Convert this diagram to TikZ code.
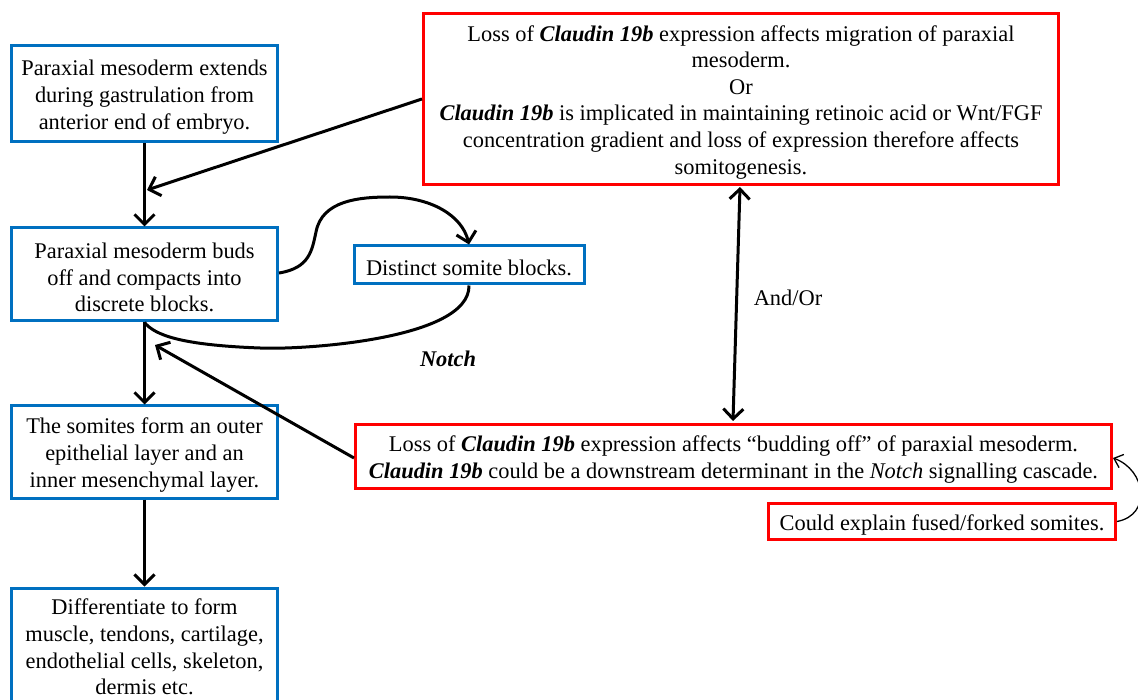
\documentclass[tikz,border=0pt]{standalone}
\usepackage{fontspec}
\setmainfont{Liberation Serif}
\usetikzlibrary{arrows.meta}
\definecolor{boxblue}{RGB}{0,112,192}
\definecolor{boxred}{RGB}{255,0,0}
\tikzset{
  txt/.style={font=\fontsize{22.4}{26.6}\selectfont, align=center, inner sep=0pt},
  bluebox/.style={txt, draw=boxblue, line width=3pt},
  redbox/.style={txt, draw=boxred, line width=3pt},
  conn/.style={line width=3pt, -{Straight Barb[length=10pt,width=20pt,line width=3pt]}},
  plainconn/.style={line width=3pt},
  thinconn/.style={line width=1.3pt, -{Straight Barb[length=8pt,width=14pt,line width=1.3pt]}},
  dblconn/.style={line width=3pt, {Straight Barb[length=10pt,width=20pt,line width=3pt]}-{Straight Barb[length=10pt,width=20pt,line width=3pt]}},
}
\newcommand{\cl}{\textbf{\textit{Claudin 19b}}}
\newcommand{\fs}{\rule{0pt}{22pt}}
\begin{document}
\begin{tikzpicture}[x=1pt,y=-1pt]
\useasboundingbox (0,0) rectangle (1138,700);
\fill[white] (0,0) rectangle (1138,700);
% left column
\node[bluebox, minimum width=266pt, minimum height=96pt] (b1) at (144.5,94)
  {\fs Paraxial mesoderm extends\\ during gastrulation from\\ anterior end of embryo.};
\node[bluebox, minimum width=266pt, minimum height=93pt] (b2) at (144.5,274.5)
  {\fs Paraxial mesoderm buds\\ off and compacts into\\ discrete blocks.};
\node[bluebox, minimum width=266pt, minimum height=92pt] (b3) at (144.5,452)
  {\fs The somites form an outer\\ epithelial layer and an\\ inner mesenchymal layer.};
\node[bluebox, minimum width=266pt, minimum height=118pt, anchor=north] (b4) at (144.5,586.5)
  {\rule{0pt}{15pt}Differentiate to form\\ muscle, tendons, cartilage,\\ endothelial cells, skeleton,\\ dermis etc.};
\node[bluebox, minimum width=230pt, minimum height=38pt] (ds) at (469,265)
  {\fs Distinct somite blocks.};
% right column
\node[redbox, minimum width=635pt, minimum height=171pt] (r1) at (741,99)
  {\fs Loss of \cl{} expression affects migration of paraxial\\ mesoderm.\\ Or\\
   \cl{} is implicated in maintaining retinoic acid or Wnt/FGF\\
   concentration gradient and loss of expression therefore affects\\ somitogenesis.};
\node[redbox, minimum width=756pt, minimum height=64pt] (r2) at (733.5,456.5)
  {\fs Loss of \cl{} expression affects “budding off” of paraxial mesoderm.\\
   \cl{} could be a downstream determinant in the \textit{Notch} signalling cascade.};
\node[redbox, minimum width=347pt, minimum height=36pt] (r3) at (942,521.5)
  {\fs Could explain fused/forked somites.};
% labels
\node[txt] (andor) at (788,295) {\fs And/Or};
\node[txt, font=\fontsize{22.4}{26.6}\selectfont\bfseries\itshape] (notch) at (448,356) {\fs Notch};
% junction coordinates
\coordinate (j1) at (147,190);
\coordinate (j2) at (155,345);
\coordinate (rt) at (740,187);
\coordinate (rb) at (733,421);
% connectors
\draw[conn] (b1.south) -- (b2.north);
\draw[conn] (b2.south) -- (b3.north);
\draw[conn] (b3.south) -- (b4.north);
\draw[conn] (r1.west |- 0,99) -- (j1);
\draw[conn] (r2.west |- 0,458) -- (j2);
\draw[conn] (b2.east |- 0,273) .. controls (310,268) and (312,250) .. (316,232)
  .. controls (322,200) and (360,197) .. (390,197)
  .. controls (430,197) and (462,215) .. (ds.north);
\draw[plainconn] (ds.south) .. controls (470,340) and (300,350) .. (260,348)
  .. controls (180,345) and (155,335) .. (b2.south);
\draw[dblconn] (rt) -- (rb);
\draw[thinconn] (r3.east) .. controls (1152,515) and (1146,470) .. (r2.east |- 0,458);
\end{tikzpicture}
\end{document}
